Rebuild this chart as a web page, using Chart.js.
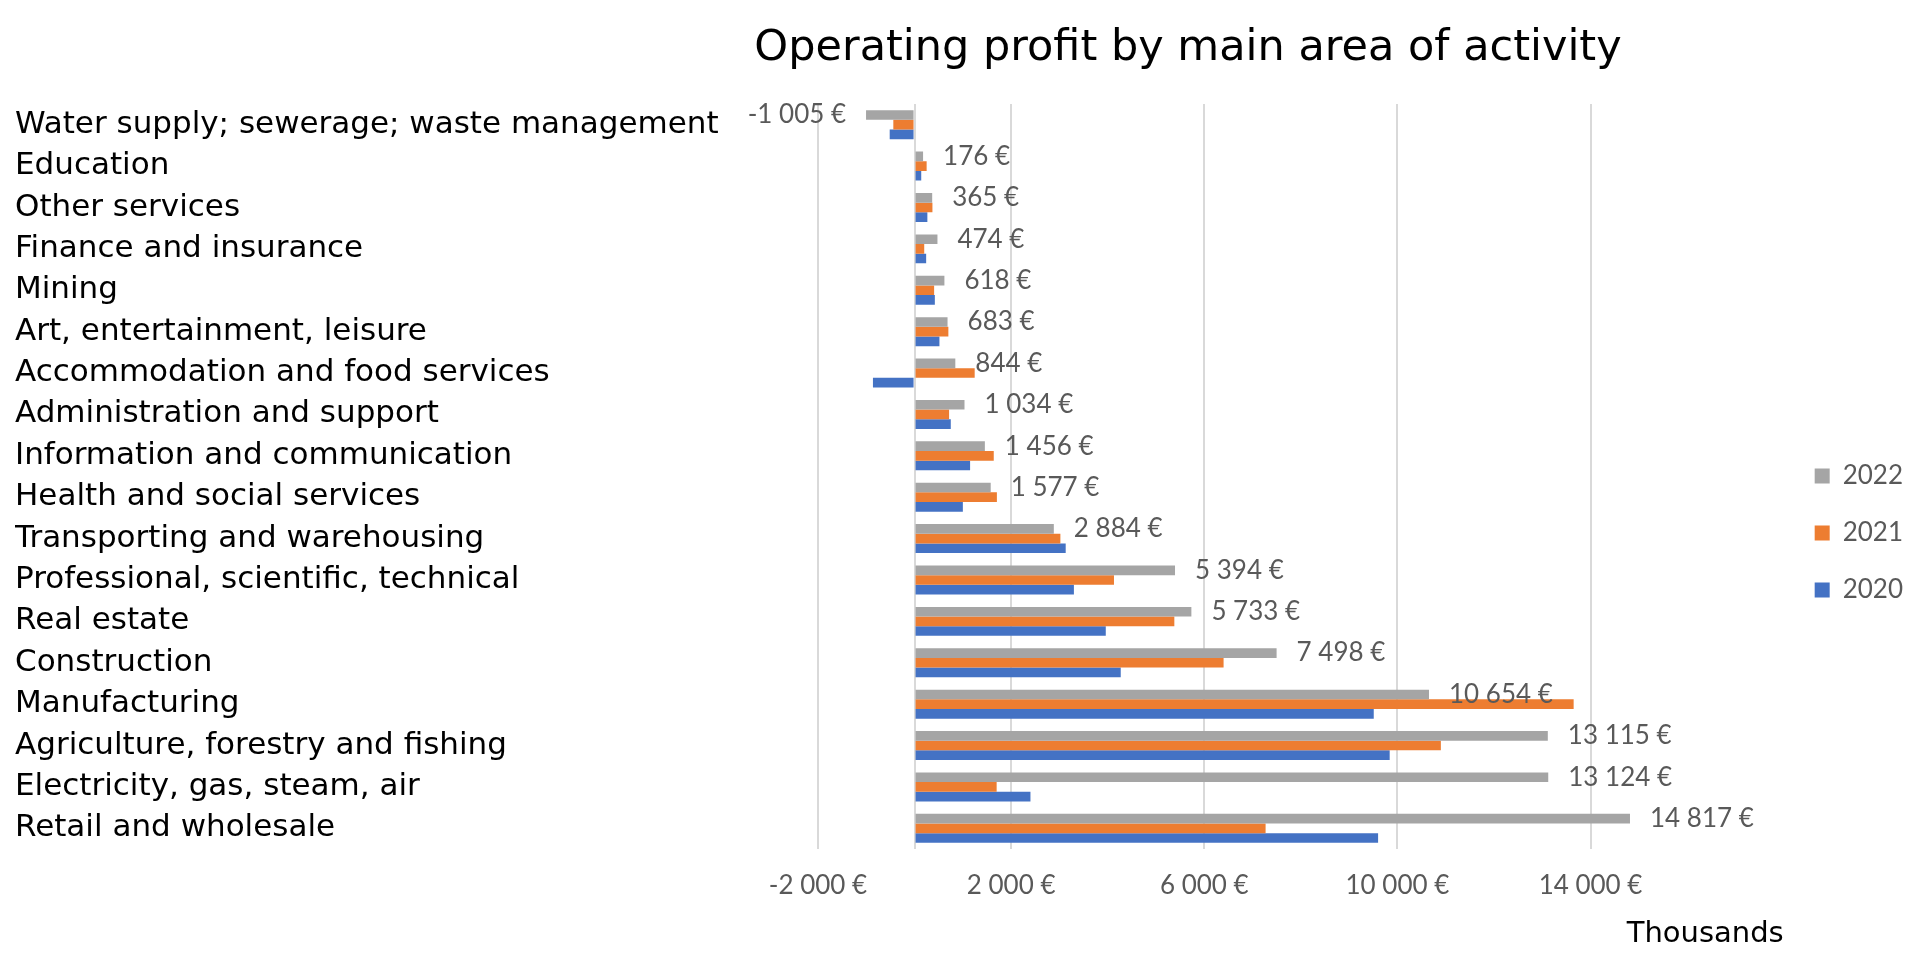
<!DOCTYPE html>
<html>
<head>
<meta charset="utf-8">
<script src="https://cdn.jsdelivr.net/npm/chart.js@4.4.0/dist/chart.umd.min.js"></script>
<style>
html,body{margin:0;padding:0;background:#fff;overflow:hidden}
#wrap{width:1920px;height:962px;position:relative}
</style>
</head>
<body>
<div id="wrap"><canvas id="c" width="1920" height="962"></canvas></div>
<script>
const chartTitle = 'Operating profit by main area of activity';
const axisTitle = 'Thousands';
const categories = [
  'Water supply; sewerage; waste management',
  'Education',
  'Other services',
  'Finance and insurance',
  'Mining',
  'Art, entertainment, leisure',
  'Accommodation and food services',
  'Administration and support',
  'Information and communication',
  'Health and social services',
  'Transporting and warehousing',
  'Professional, scientific, technical',
  'Real estate',
  'Construction',
  'Manufacturing',
  'Agriculture, forestry and fishing',
  'Electricity, gas, steam, air',
  'Retail and wholesale'
];
const seriesNames = ['2022', '2021', '2020'];
const values2022 = [-1005, 176, 365, 474, 618, 683, 844, 1034, 1456, 1577, 2884, 5394, 5733, 7498, 10654, 13115, 13124, 14817];
const values2021 = [-440, 250, 370, 200, 405, 700, 1245, 715, 1640, 1705, 3020, 4130, 5380, 6400, 13650, 10900, 1700, 7270];
const values2020 = [-515, 138, 265, 240, 420, 515, -862, 750, 1150, 1000, 3130, 3300, 3960, 4270, 9510, 9840, 2400, 9600];
const xTickValues = [-2000, 0, 2000, 6000, 10000, 14000];
const xMin = -2000;
const xMax = 18000;
const seriesColors = ['#A5A5A5', '#ED7D31', '#4472C4'];

function fmtEuro(v) {
  const s = String(Math.abs(v)).replace(/\B(?=(\d{3})+(?!\d))/g, ' ');
  return (v < 0 ? '-' : '') + s + ' €';
}

const titlePlugin = {
  id: 'placedTitle',
  afterDraw(chart) {
    const ctx = chart.ctx;
    ctx.save();
    ctx.font = '43px "DejaVu Sans"';
    ctx.fillStyle = '#000000';
    ctx.textAlign = 'center';
    ctx.textBaseline = 'middle';
    ctx.fillText(chartTitle, 1188, 49);
    ctx.restore();
  }
};

const valueLabelPlugin = {
  id: 'valueLabels',
  afterDatasetsDraw(chart) {
    const meta = chart.getDatasetMeta(0);
    const data = chart.data.datasets[0].data;
    const ctx = chart.ctx;
    ctx.save();
    ctx.font = '26px Lato';
    ctx.fillStyle = '#595959';
    ctx.textBaseline = 'middle';
    meta.data.forEach((el, i) => {
      const v = data[i];
      const txt = fmtEuro(v);
      if (v >= 0) {
        ctx.textAlign = 'left';
        ctx.fillText(txt, el.x + 20, el.y);
      } else {
        ctx.textAlign = 'right';
        ctx.fillText(txt, el.x - 20, el.y);
      }
    });
    ctx.restore();
  }
};

const allValues = [values2022, values2021, values2020];

new Chart(document.getElementById('c'), {
  type: 'bar',
  data: {
    labels: categories,
    datasets: seriesNames.map((name, i) => ({
      label: name,
      data: allValues[i],
      backgroundColor: seriesColors[i],
      borderWidth: 0,
      barPercentage: 1.0,
      categoryPercentage: 0.7
    }))
  },
  options: {
    indexAxis: 'y',
    responsive: false,
    animation: false,
    devicePixelRatio: 1,
    layout: { padding: { left: 15, top: 104, right: 7, bottom: 0 } },
    scales: {
      x: {
        type: 'linear',
        min: xMin,
        max: xMax,
        afterBuildTicks: (scale) => { scale.ticks = xTickValues.map(v => ({ value: v })); },
        afterFit: (scale) => { scale.height = 113; },
        grid: { color: '#D9D9D9', lineWidth: 2, drawTicks: false },
        border: { display: false },
        ticks: {
          padding: 21,
          color: '#595959',
          font: { family: 'Lato', size: 26 },
          maxRotation: 0,
          autoSkip: false,
          callback: (v) => (v === 0 ? '' : fmtEuro(v))
        },
        title: {
          display: true,
          text: axisTitle,
          align: 'end',
          color: '#000000',
          font: { family: 'DejaVu Sans', size: 29 },
          padding: { top: 0, bottom: 10 }
        }
      },
      y: {
        type: 'category',
        grid: { display: false },
        border: { display: false },
        afterFit: (scale) => { scale.width = 803; },
        ticks: {
          crossAlign: 'far',
          autoSkip: false,
          color: '#000000',
          font: { family: 'DejaVu Sans', size: 31 }
        }
      }
    },
    plugins: {
      title: { display: false },
      tooltip: { enabled: false },
      legend: {
        display: true,
        position: 'right',
        align: 'center',
        labels: {
          boxWidth: 15,
          boxHeight: 15,
          padding: 31,
          color: '#595959',
          font: { family: 'Lato', size: 26 }
        }
      }
    }
  },
  plugins: [titlePlugin, valueLabelPlugin]
});
</script>
</body>
</html>
